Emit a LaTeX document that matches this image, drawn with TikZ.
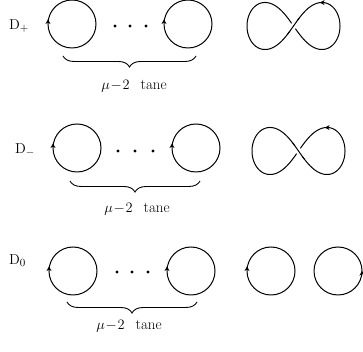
\documentclass[tikz,border=0pt]{standalone}
\usetikzlibrary{decorations.pathreplacing,decorations.markings,arrows.meta}
\begin{document}
\begin{tikzpicture}[x=1pt,y=1pt,
  ln/.style={line width=1pt},
  tip/.style={-{Stealth[length=4.5pt,width=5pt]}},
  >={Stealth[length=4.5pt,width=5pt]},
  arrleft/.style={postaction={decorate},decoration={markings,mark=at position 0.75 with {\arrow{<}}}},
  arrright/.style={postaction={decorate},decoration={markings,mark=at position 0.25 with {\arrow{>}}}},
  lbl/.style={inner sep=0pt,font=\fontsize{15}{18}\selectfont},
  tane/.style={inner sep=0pt,font=\fontsize{15}{18}\selectfont},
  dotmark/.style={fill=black,circle,inner sep=0pt,minimum size=3.2pt},
  brc/.style={decorate,decoration={brace,mirror,amplitude=11pt},line width=0.9pt},
  pics/loopl/.style={code={\draw[ln,arrleft] (0,-24) arc[start angle=-90,end angle=270,radius=24];}},
  pics/loopr/.style={code={\draw[ln,arrright] (0,-24) arc[start angle=-90,end angle=270,radius=24];}},
  pics/eight/.style={code={
    \draw[ln] plot[domain=0:360,samples=241,smooth cycle,variable=\t]
      ({46.5*cos(\t)/(1+sin(\t)*sin(\t))},{66.5*sin(\t)*cos(\t)/(1+sin(\t)*sin(\t))});
    \pgfmathsetmacro{\tz}{180-90*#1}
    \draw[white,line width=6pt] plot[domain=\tz-9:\tz+9,samples=13,smooth,variable=\t]
      ({46.5*cos(\t)/(1+sin(\t)*sin(\t))},{66.5*sin(\t)*cos(\t)/(1+sin(\t)*sin(\t))});
    \draw[ln] plot[domain=\tz-14:\tz+14,samples=17,smooth,variable=\t]
      ({46.5*cos(\t)/(1+sin(\t)*sin(\t))},{66.5*sin(\t)*cos(\t)/(1+sin(\t)*sin(\t))});
    \draw[ln,tip] (30.5,23.4) -- (26.5,23.4);
  }}
]
\useasboundingbox (0,0) rectangle (363,352);

% Row 1: D+
\node[lbl,anchor=west] (dp) at (9,326) {$\mathrm{D}_{+}$};
\pic (p1) at (72,328) {loopl};
\node[dotmark] (p1a) at (115,326) {};
\node[dotmark] (p1b) at (130,326) {};
\node[dotmark] (p1c) at (146,326) {};
\pic (p2) at (188,328) {loopl};
\pic (p8) at (293.5,326) {eight=1};
\coordinate (b1s) at (63,296);
\coordinate (b1e) at (196,296);
\draw[brc] (b1s) -- (b1e);
\node[tane] (t1) at (134,266) {$\mu\!-\!2$\hspace{11pt}tane};

% Row 2: D-
\node[lbl,anchor=west] (dm) at (15,202) {$\mathrm{D}_{-}$};
\pic (m1) at (77,204) {loopl};
\node[dotmark] (m1a) at (118,201) {};
\node[dotmark] (m1b) at (135,201) {};
\node[dotmark] (m1c) at (153,201) {};
\pic (m2) at (196,204) {loopl};
\pic (m8) at (298.5,201) {eight=-1};
\coordinate (b2s) at (70,171);
\coordinate (b2e) at (200,171);
\draw[brc] (b2s) -- (b2e);
\node[tane] (t2) at (137,143) {$\mu\!-\!2$\hspace{11pt}tane};

% Row 3: D0
\node[lbl,anchor=west] (dz) at (9,91) {$\mathrm{D}_{0}$};
\pic (z1) at (73,81) {loopl};
\node[dotmark] (z1a) at (117,80) {};
\node[dotmark] (z1b) at (132,80) {};
\node[dotmark] (z1c) at (148,80) {};
\pic (z2) at (191,81) {loopl};
\pic (z3) at (271,81) {loopl};
\pic (z4) at (338,81) {loopr};
\coordinate (b3s) at (67,50);
\coordinate (b3e) at (197,50);
\draw[brc] (b3s) -- (b3e);
\node[tane] (t3) at (129,26) {$\mu\!-\!2$\hspace{11pt}tane};
\end{tikzpicture}
\end{document}
